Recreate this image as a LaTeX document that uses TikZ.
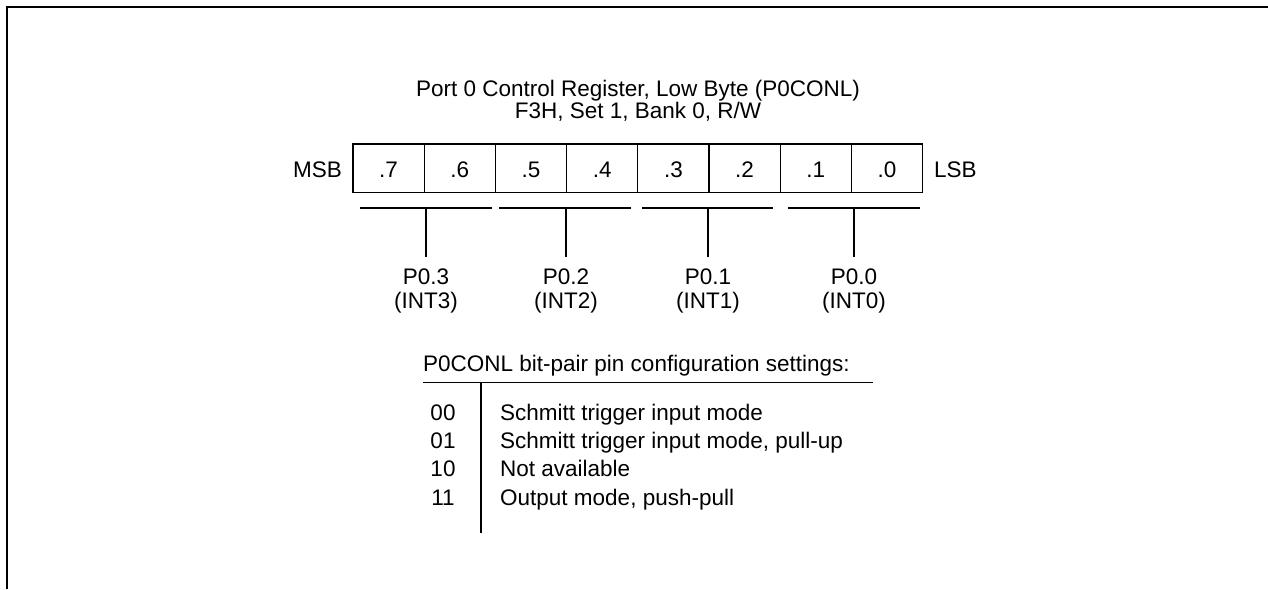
\documentclass[tikz,border=0pt]{standalone}
\usepackage{fontspec}
\setmainfont{Liberation Sans}
\begin{document}
\begin{tikzpicture}[x=1pt,y=-1pt,
  txt/.style={inner sep=0pt,anchor=base,font=\fontsize{22.5}{24}\selectfont},
  cell/.style={draw,line width=1.3pt,minimum width=71.2pt,minimum height=48.7pt,inner sep=0pt},
  ln/.style={line width=1.3pt}]
\useasboundingbox (0,0) rectangle (1268,589);
\draw[line width=1.8pt] (7,589) -- (7,7) -- (1268,7);
\node[txt] (t1) at (638,96) {Port 0 Control Register, Low Byte (P0CONL)};
\node[txt] (t2) at (638,118) {F3H, Set 1, Bank 0, R/W};
\foreach \i/\l in {0/.7,1/.6,2/.5,3/.4,4/.3,5/.2,6/.1,7/.0}{
  \node[cell] (c\i) at ({388.6+71.2*\i},168.4) {};
  \node[txt] (l\i) at ({388.6+71.2*\i},177.3) {\l};
}
\node[txt,anchor=base east] (msb) at (342,177.3) {MSB};
\node[txt,anchor=base west] (lsb) at (934,177.3) {LSB};
\foreach \a/\b/\m/\n/\p/\q in {360/492/426/3/P0.3/(INT3),499/631/566/2/P0.2/(INT2),642/773/708/1/P0.1/(INT1),788/920/854/0/P0.0/(INT0)}{
  \coordinate (la\n) at (\a,208);
  \coordinate (lb\n) at (\b,208);
  \coordinate (lm\n) at (\m,208);
  \coordinate (le\n) at (\m,257);
  \draw[ln] (la\n) -- (lb\n);
  \draw[ln] (lm\n) -- (le\n);
  \node[txt] (p\n) at (\m,284) {\p};
  \node[txt] (i\n) at (\m,308) {\q};
}
\node[txt,anchor=base west] (hd) at (423,371.5) {P0CONL bit-pair pin configuration settings:};
\coordinate (h1) at (423,382.5);
\coordinate (h2) at (873,382.5);
\coordinate (v1) at (481,382.5);
\coordinate (v2) at (481,533);
\draw[ln] (h1) -- (h2);
\draw[ln] (v1) -- (v2);
\foreach \y/\c/\d in {420/00/Schmitt trigger input mode,448.3/01/{Schmitt trigger input mode, pull-up},476.6/10/Not available,505/11/{Output mode, push-pull}}{
  \node[txt] at (443,\y) {\c};
  \node[txt,anchor=base west] at (500,\y) {\d};
}
\end{tikzpicture}
\end{document}
